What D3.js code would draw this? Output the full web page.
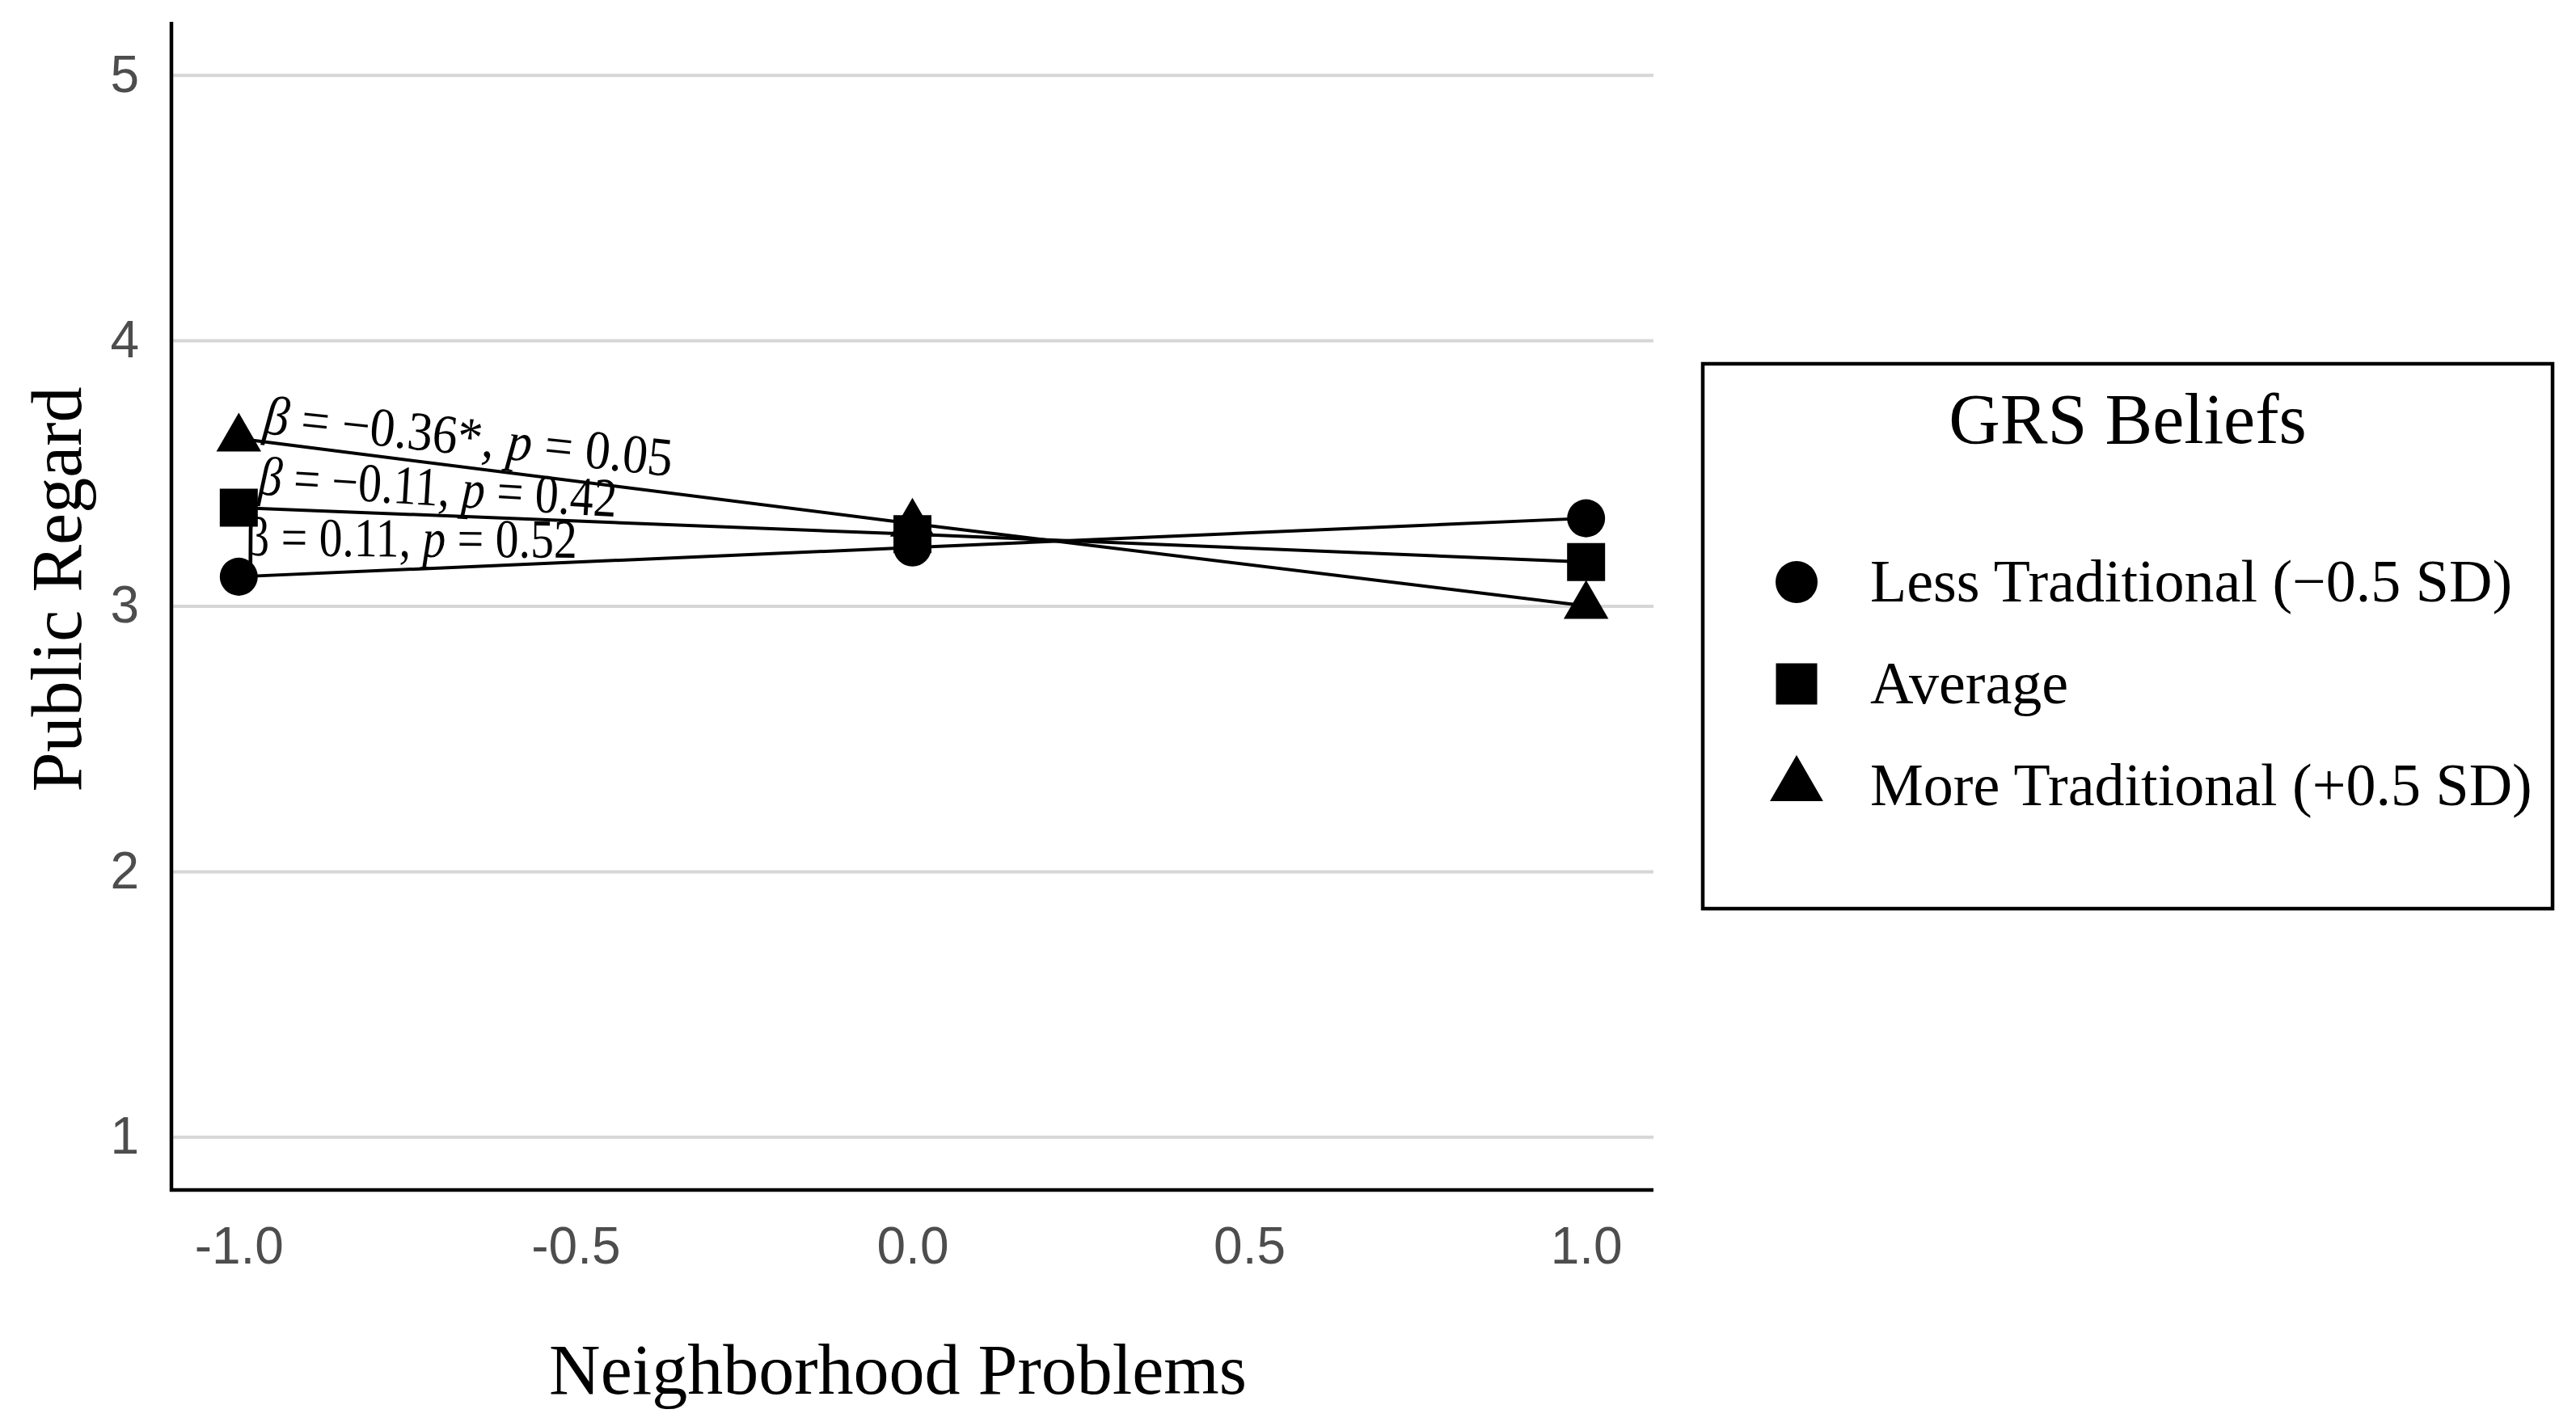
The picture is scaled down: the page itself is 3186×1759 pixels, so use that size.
<!DOCTYPE html>
<html>
<head>
<meta charset="utf-8">
<script src="https://cdn.jsdelivr.net/npm/d3@7"></script>
<style>
  body { margin: 0; background: #fff; }
</style>
</head>
<body>
<svg id="chart"></svg>
<script>
// data
const xValues = [-1, 0, 1];
const groupNames = ["Less Traditional (\u22120.5 SD)", "Average", "More Traditional (+0.5 SD)"];
const lessValues = [3.11, 3.22, 3.33];
const averageValues = [3.37, 3.27, 3.165];
const moreValues = [3.63, 3.31, 3.0];
const xTicks = [-1.0, -0.5, 0.0, 0.5, 1.0];
const yTicks = [1, 2, 3, 4, 5];
const legendTitle = "GRS Beliefs";
const annotBeta = ["\u22120.36*", "\u22120.11", "0.11"];
const annotP = ["0.05", "0.42", "0.52"];

const WIDTH = 3186;
const HEIGHT = 1759;
const PLOT = { LEFT: 212, RIGHT: 2045, TOP: 27, BOTTOM: 1472 };
const SERIF = "'Liberation Serif', 'Times New Roman', serif";
const SANS = "'Liberation Sans', Arial, sans-serif";

let svg = d3.select("#chart")
  .attr("width", WIDTH)
  .attr("height", HEIGHT);

let xScale = d3.scaleLinear()
  .domain([-1.1, 1.1])
  .range([PLOT.LEFT, PLOT.RIGHT]);
let yScale = d3.scaleLinear()
  .domain([0.8, 5.2])
  .range([PLOT.BOTTOM, PLOT.TOP]);

// horizontal gridlines
let grid = svg.append("g")
  .attr("transform", `translate(${PLOT.LEFT},0)`)
  .call(d3.axisLeft(yScale).tickValues(yTicks).tickSize(-(PLOT.RIGHT - PLOT.LEFT)).tickFormat(""));
grid.select(".domain").remove();
grid.selectAll("line").attr("stroke", "#d6d6d6").attr("stroke-width", 4);

// y tick labels
let yAxis = svg.append("g")
  .attr("transform", `translate(${PLOT.LEFT},0)`)
  .call(d3.axisLeft(yScale).tickValues(yTicks).tickSize(0).tickPadding(40).tickFormat(d3.format("d")));
yAxis.select(".domain").remove();
yAxis.selectAll("text")
  .attr("font-family", SANS)
  .attr("font-size", 64)
  .attr("fill", "#4d4d4d");

// x tick labels
let xAxis = svg.append("g")
  .attr("transform", `translate(0,${PLOT.BOTTOM})`)
  .call(d3.axisBottom(xScale).tickValues(xTicks).tickSize(0).tickPadding(46).tickFormat(d3.format(".1f")));
xAxis.select(".domain").remove();
xAxis.selectAll("text")
  .attr("font-family", SANS)
  .attr("font-size", 64)
  .attr("fill", "#4d4d4d")
  .text(d => d3.format(".1f")(d).replace("\u2212", "-"));

// axis lines
svg.append("line")
  .attr("x1", PLOT.LEFT).attr("x2", PLOT.LEFT)
  .attr("y1", PLOT.TOP).attr("y2", PLOT.BOTTOM + 2)
  .attr("stroke", "#000").attr("stroke-width", 4.5);
svg.append("line")
  .attr("x1", PLOT.LEFT - 2).attr("x2", PLOT.RIGHT)
  .attr("y1", PLOT.BOTTOM).attr("y2", PLOT.BOTTOM)
  .attr("stroke", "#000").attr("stroke-width", 4.5);

// series
const series = [
  { name: groupNames[0], values: lessValues, symbol: d3.symbolCircle, size: 1735, legendSize: 2124 },
  { name: groupNames[1], values: averageValues, symbol: d3.symbolSquare, size: 2209, legendSize: 2601 },
  { name: groupNames[2], values: moreValues, symbol: d3.symbolTriangle, size: 1330, legendSize: 1876 }
];

let line = d3.line()
  .x((d, i) => xScale(xValues[i]))
  .y(d => yScale(d));

series.forEach(s => {
  svg.append("path")
    .attr("d", line(s.values))
    .attr("fill", "none")
    .attr("stroke", "#000")
    .attr("stroke-width", 4);
});

series.forEach(s => {
  svg.selectAll(null)
    .data(s.values)
    .enter()
    .append("path")
      .attr("d", d3.symbol().type(s.symbol).size(s.size))
      .attr("transform", (d, i) => `translate(${xScale(xValues[i])},${yScale(d)})`)
      .attr("fill", "#000");
});

// slope annotations (order: more, average, less)
const annotX = [-0.965, -0.972, -0.99];
const annotY = [3.65, 3.42, 3.19];
const annotAngle = [6, 3.6, 0.4];
const annotLen = [508, 444, 410];
annotBeta.forEach((b, i) => {
  let t = svg.append("text")
    .attr("transform", `translate(${xScale(annotX[i])},${yScale(annotY[i])}) rotate(${annotAngle[i]})`)
    .attr("font-family", SERIF)
    .attr("font-size", 68)
    .attr("fill", "#000")
    .attr("textLength", annotLen[i])
    .attr("lengthAdjust", "spacingAndGlyphs");
  t.append("tspan").attr("font-style", i < 2 ? "italic" : "normal").text("\u03b2");
  t.append("tspan").text(` = ${b}, `);
  t.append("tspan").attr("font-style", "italic").text("p");
  t.append("tspan").text(` = ${annotP[i]}`);
});

// axis titles
svg.append("text")
  .attr("x", xScale(0) - 18)
  .attr("y", 1724)
  .attr("text-anchor", "middle")
  .attr("font-family", SERIF)
  .attr("font-size", 88)
  .text("Neighborhood Problems");
svg.append("text")
  .attr("transform", `translate(100,729) rotate(-90)`)
  .attr("text-anchor", "middle")
  .attr("font-family", SERIF)
  .attr("font-size", 88)
  .text("Public Regard");

// legend
const LEGEND = { X: 2106, Y: 450, W: 1051, H: 674 };
let legend = svg.append("g");
legend.append("rect")
  .attr("x", LEGEND.X).attr("y", LEGEND.Y)
  .attr("width", LEGEND.W).attr("height", LEGEND.H)
  .attr("fill", "#fff")
  .attr("stroke", "#000")
  .attr("stroke-width", 4.5);
legend.append("text")
  .attr("x", LEGEND.X + LEGEND.W / 2)
  .attr("y", 548)
  .attr("text-anchor", "middle")
  .attr("font-family", SERIF)
  .attr("font-size", 88)
  .text(legendTitle);

let items = legend.selectAll(".item")
  .data(series)
  .enter()
  .append("g")
    .attr("class", "item")
    .attr("transform", (d, i) => `translate(0,${720 + i * 126})`);
items.append("path")
  .attr("d", d => d3.symbol().type(d.symbol).size(d.legendSize)())
  .attr("transform", "translate(2222,0)")
  .attr("fill", "#000");
items.append("text")
  .attr("x", 2313)
  .attr("y", 24)
  .attr("font-family", SERIF)
  .attr("font-size", 74)
  .text(d => d.name);
</script>
</body>
</html>
